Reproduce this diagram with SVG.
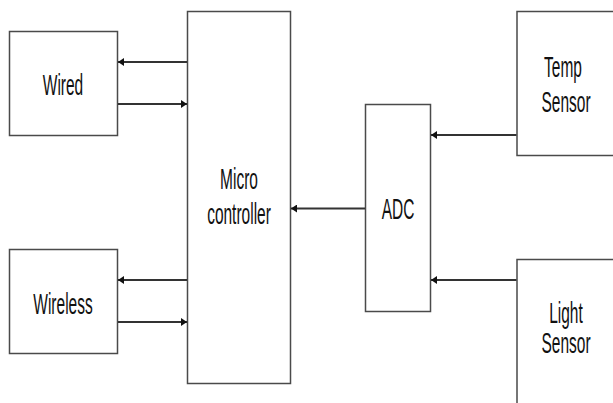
<svg xmlns="http://www.w3.org/2000/svg" width="613" height="403" viewBox="0 0 613 403">
<style>
.box{fill:#ffffff;stroke:#4a4a4a;stroke-width:1.5}
.lbl{font-family:"Liberation Sans",Arial,sans-serif;font-size:15.5px;fill:#111;text-anchor:middle}
.conn{stroke:#333333;stroke-width:2;fill:none;marker-end:url(#ah)}
</style>
<defs>
<marker id="ah" viewBox="0 0 6 8" refX="6" refY="4" markerWidth="6" markerHeight="8" markerUnits="userSpaceOnUse" orient="auto">
<path d="M0,0 L6,4 L0,8 Z" fill="#111"/>
</marker>
</defs>
<rect width="613" height="403" fill="#ffffff"/>
<g id="wired">
<rect class="box" x="9.5" y="31.5" width="108" height="104"/>
<text class="lbl" transform="translate(63,95) scale(1,1.9)">Wired</text>
</g>
<g id="wireless">
<rect class="box" x="9.5" y="249.5" width="108" height="104"/>
<text class="lbl" transform="translate(63,314) scale(1,1.9)">Wireless</text>
</g>
<g id="microcontroller">
<rect class="box" x="187.5" y="11.5" width="103" height="372"/>
<text class="lbl" transform="translate(239,188.5) scale(1,1.9)">Micro</text>
<text class="lbl" transform="translate(239,224) scale(1,1.9)">controller</text>
</g>
<g id="adc">
<rect class="box" x="365.5" y="104.5" width="65" height="207"/>
<text class="lbl" transform="translate(398,218.5) scale(1,1.9)">ADC</text>
</g>
<g id="temp-sensor">
<rect class="box" x="517" y="11.5" width="110" height="144"/>
<text class="lbl" transform="translate(563,76.7) scale(1,1.9)">Temp</text>
<text class="lbl" transform="translate(566,111.7) scale(1,1.9)">Sensor</text>
</g>
<g id="light-sensor">
<rect class="box" x="517" y="259.5" width="110" height="160"/>
<text class="lbl" transform="translate(566,323.3) scale(1,1.9)">Light</text>
<text class="lbl" transform="translate(566,353.3) scale(1,1.9)">Sensor</text>
</g>
<g id="connectors">
<line class="conn" x1="187" y1="62" x2="118" y2="62"/>
<line class="conn" x1="118" y1="104" x2="187" y2="104"/>
<line class="conn" x1="187" y1="280" x2="118" y2="280"/>
<line class="conn" x1="118" y1="322" x2="187" y2="322"/>
<line class="conn" x1="365" y1="208.5" x2="291" y2="208.5"/>
<line class="conn" x1="516.5" y1="135" x2="431" y2="135"/>
<line class="conn" x1="516.5" y1="280" x2="431" y2="280"/>
</g>
</svg>
